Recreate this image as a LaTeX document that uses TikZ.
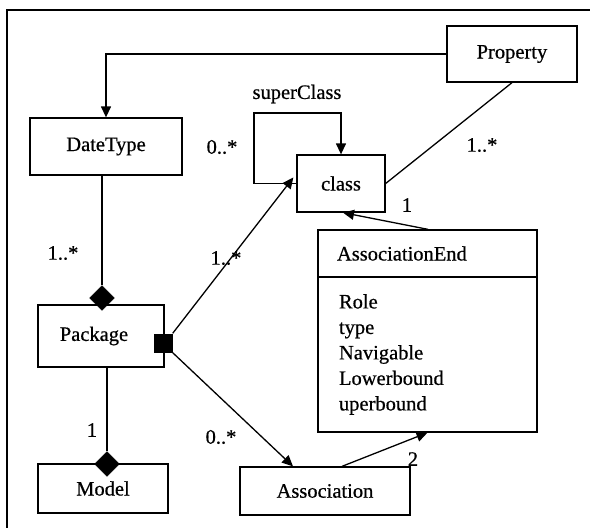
\documentclass[tikz,border=0pt]{standalone}
\usepackage{fontspec}
\setmainfont{Liberation Serif}[FakeBold=0.6]
\usetikzlibrary{arrows.meta,shapes.geometric,calc}

\tikzset{
  umlbox/.style={draw, line width=1.3pt, inner sep=0pt, font=\fontsize{20.5}{24}\selectfont},
  lbl/.style={font=\fontsize{20.5}{24}\selectfont, inner sep=0pt},
  link/.style={line width=1.3pt},
  tri/.style={link, -{Triangle[length=11pt,width=10pt]}},
  blackdiamond/.style={diamond, fill=black, draw=black, inner sep=0pt, minimum width=25pt, minimum height=25pt},
  blacksquare/.style={rectangle, fill=black, inner sep=0pt, minimum size=19pt}
}

\begin{document}
\begin{tikzpicture}[x=1pt,y=-1pt]
\useasboundingbox (0,0) rectangle (590,528);

% frame lines on the left and top
\draw[line width=1.3pt] (7,528) -- (7,10) -- (590,10);

% classes
\node[umlbox, minimum width=130pt, minimum height=56pt] (prop) at (512,54) {Property};
\node[umlbox, minimum width=152pt, minimum height=57pt] (dtype) at (106,146.5) {DateType};
\node[umlbox, minimum width=88pt, minimum height=57pt] (cls) at (341,183.5) {class};
\node[umlbox, minimum width=126pt, minimum height=62pt] (pkg) at (101,336) {Package\hspace*{14pt}};
\node[umlbox, minimum width=130pt, minimum height=49pt] (model) at (103,488.5) {Model};
\node[umlbox, minimum width=170pt, minimum height=48pt] (assoc) at (325,491) {Association};

% AssociationEnd: name compartment and attribute compartment
\node[umlbox, minimum width=219pt, minimum height=47pt, text width=219pt, align=left] (aeh) at (427.5,253.5) {\hspace*{19pt}AssociationEnd};
\node[umlbox, minimum width=219pt, minimum height=155pt, text width=177pt, inner xsep=21pt, align=left, font=\fontsize{20.5}{25.5}\selectfont] (aeb) at (427.5,354.5) {Role\\type\\Navigable\\Lowerbound\\uperbound};

% aggregation / composition markers
\node[blackdiamond] (dpk) at (102,298) {};
\node[blackdiamond] (dmod) at (107,464) {};
\node[blacksquare] (sq) at (163,343) {};

% self association corner
\coordinate (loopc) at (254,113);

% connectors
\draw[tri] (prop.west) -| (dtype.north);
\draw[link] (prop.south) -- (cls.east);
\draw[tri] (cls.west) -| (loopc) -| (cls.north);
\draw[tri] ([xshift=0.5pt]aeh.north) -- ([xshift=2pt]cls.south);
\draw[tri] ([xshift=17pt]assoc.north) -- (aeb.south);
\draw[link] (dpk.north |- dtype.south) -- (dpk.north);
\draw[link] (dmod.north |- pkg.south) -- (dmod.north);
\draw[tri] (sq.north east) -- ([xshift=-3pt,yshift=6pt]cls.west);
\draw[tri] (sq.south east) -- ([xshift=-32pt]assoc.north);

% multiplicities and role names
\node[lbl] (l1) at (297,94) {superClass};
\node[lbl] (l2) at (222,147) {0..*};
\node[lbl] (l3) at (482,145) {1..*};
\node[lbl] (l4) at (407,205) {1};
\node[lbl] (l5) at (63,253) {1..*};
\node[lbl] (l6) at (226,258) {1..*};
\node[lbl] (l7) at (92,430) {1};
\node[lbl] (l8) at (221,437) {0..*};
\node[lbl] (l9) at (413,459) {2};
\end{tikzpicture}
\end{document}
